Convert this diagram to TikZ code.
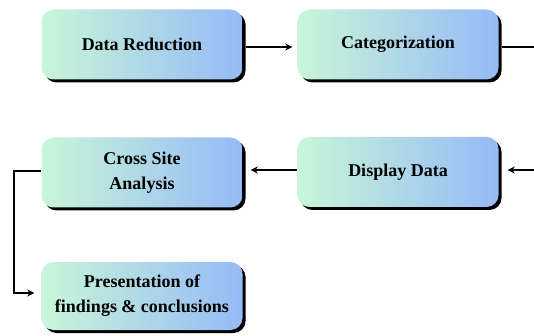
\documentclass[tikz,border=0pt]{standalone}
\usepackage{fontspec}
\setmainfont{Liberation Serif}
\usetikzlibrary{arrows.meta,shadows}
\definecolor{mintgreen}{RGB}{200,246,216}
\definecolor{paleblue}{RGB}{150,186,246}
\begin{document}
\begin{tikzpicture}[x=1pt,y=-1pt,
  stagebox/.style={rounded corners=12pt, minimum width=201pt, minimum height=70pt,
    inner sep=0pt, align=center, left color=mintgreen, right color=paleblue,
    font=\bfseries\fontsize{18}{25}\selectfont,
    drop shadow={shadow xshift=3pt, shadow yshift=-3pt, fill=black, opacity=1}},
  flow/.style={line width=1.4pt, -{Stealth[length=7pt,width=7pt]}},
  plain/.style={line width=1.4pt}]
\useasboundingbox (0,0) rectangle (534,336);

% stages
\node[stagebox] (dr)   at (142,44.5) {Data Reduction};
\node[stagebox] (cat)  at (398,44.5) {Categorization};
\node[stagebox] (dd)   at (398,172)  {Display Data};
\node[stagebox] (csa)  at (142,172.5)  {Cross Site\\Analysis};
\node[stagebox, minimum height=68pt] (pres) at (142,296) {Presentation of\\findings \& conclusions};

% free ends at the right margin
\coordinate (catout) at (536,47);
\coordinate (ddin)   at (536,170);
\coordinate (bend)   at (14,171);

% connectors
\draw[flow, shorten <=3pt, shorten >=5pt] (dr.east |- 0,47) -- (cat.west |- 0,47);
\draw[plain, shorten <=3pt] (cat.east |- catout) -- (catout);
\draw[flow, shorten >=9pt] (ddin) -- (dd.east |- ddin);
\draw[flow, shorten >=8pt] (dd.west |- 0,170) -- (csa.east |- 0,170);
\draw[flow, shorten >=7pt] (csa.west |- bend) -- (bend) |- (pres.west |- 0,293);
\end{tikzpicture}
\end{document}
